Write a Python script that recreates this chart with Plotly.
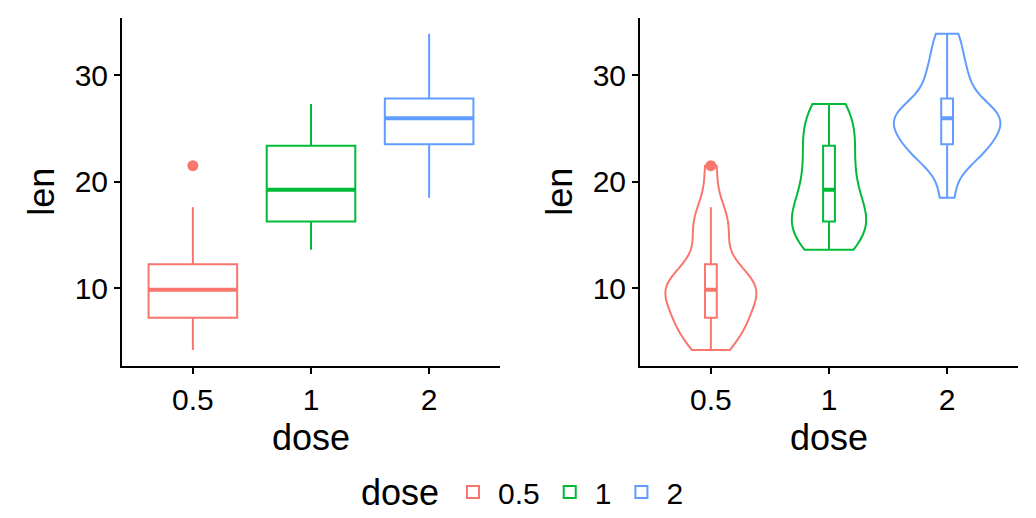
import numpy as np
import plotly.graph_objects as go
from plotly.subplots import make_subplots

# ToothGrowth len values per dose
len_05 = [4.2, 11.5, 7.3, 5.8, 6.4, 10.0, 11.2, 11.2, 5.2, 7.0,
          15.2, 21.5, 17.6, 9.7, 14.5, 10.0, 8.2, 9.4, 16.5, 9.7]
len_1 = [16.5, 16.5, 15.2, 17.3, 22.5, 17.3, 13.6, 14.5, 18.8, 15.5,
         19.7, 23.3, 23.6, 26.4, 20.0, 25.2, 25.8, 21.2, 14.5, 27.3]
len_2 = [23.6, 18.5, 33.9, 25.5, 26.4, 32.5, 26.7, 21.5, 23.3, 29.5,
         25.5, 26.4, 22.4, 24.5, 24.8, 30.9, 26.4, 27.3, 29.4, 23.0]
dose_labels = ['0.5', '1', '2']
colors = ['#F8766D', '#00BA38', '#619CFF']

groups = [np.array(len_05), np.array(len_1), np.array(len_2)]

# page body has an 8px margin, so the figure is drawn 8px in from the corner
OFF = 8
W, H = 1036 - OFF, 518 - OFF
FONT = 'Liberation Sans, Arial, sans-serif'
LW = 2


def px(x):
    return (x - OFF) / W


def py(y):
    return 1 - (y - OFF) / H


def box_stats(v):
    q1, med, q3 = np.percentile(v, [25, 50, 75])
    iqr = q3 - q1
    inside = v[(v >= q1 - 1.5 * iqr) & (v <= q3 + 1.5 * iqr)]
    out = v[(v < q1 - 1.5 * iqr) | (v > q3 + 1.5 * iqr)]
    return q1, med, q3, inside.min(), inside.max(), out


def nrd0(v):
    iqr = np.subtract(*np.percentile(v, [75, 25]))
    return 0.9 * min(v.std(ddof=1), iqr / 1.34) * len(v) ** -0.2


def max_density(v):
    bw = nrd0(v)
    grid = np.linspace(v.min(), v.max(), 512)
    d = np.exp(-0.5 * ((grid[:, None] - v[None, :]) / bw) ** 2).sum(axis=1)
    return d.max() / (len(v) * bw * np.sqrt(2 * np.pi))


fig = make_subplots(rows=1, cols=2)


def add_box(col, i, v, width, legend):
    q1, med, q3, lf, uf, out = box_stats(v)
    fig.add_trace(go.Box(x=[i], q1=[q1], median=[med], q3=[q3],
                         lowerfence=[lf], upperfence=[uf],
                         width=width, whiskerwidth=0, boxpoints=False,
                         line=dict(color=colors[i], width=LW),
                         fillcolor='white', name=dose_labels[i],
                         legendgroup=dose_labels[i], showlegend=legend,
                         hoverinfo='skip'), row=1, col=col)
    # thicker median like ggplot
    fig.add_trace(go.Scatter(x=[i - width / 2, i + width / 2], y=[med, med],
                             mode='lines', line=dict(color=colors[i], width=2 * LW),
                             showlegend=False, hoverinfo='skip'), row=1, col=col)
    if len(out):
        fig.add_trace(go.Scatter(x=[i] * len(out), y=out, mode='markers',
                                 marker=dict(color=colors[i], size=11),
                                 showlegend=False, hoverinfo='skip'), row=1, col=col)


# left: box plots
for i, v in enumerate(groups):
    add_box(1, i, v, 0.75, True)

# right: violins with narrow boxes (area scaled)
dmax = [max_density(v) for v in groups]
for i, v in enumerate(groups):
    fig.add_trace(go.Violin(x0=i, y=v, width=0.9 * dmax[i] / max(dmax),
                            scalemode='width', spanmode='hard', bandwidth=nrd0(v),
                            points=False, box_visible=False, meanline_visible=False,
                            line=dict(color=colors[i], width=LW),
                            fillcolor='rgba(0,0,0,0)', showlegend=False,
                            hoverinfo='skip'), row=1, col=2)
for i, v in enumerate(groups):
    add_box(2, i, v, 0.1, False)

allv = np.concatenate(groups)
pad = 0.05 * (allv.max() - allv.min())
yrange = [allv.min() - pad, allv.max() + pad]

axis_style = dict(showline=True, linecolor='black', linewidth=LW, mirror=False,
                  ticks='outside', ticklen=6, tickwidth=LW, tickcolor='black',
                  showgrid=False, zeroline=False, automargin=False,
                  tickfont=dict(size=30, color='black', family=FONT))

fig.update_xaxes(range=[-0.6, 2.6], tickvals=[0, 1, 2], ticktext=dose_labels, **axis_style)
fig.update_yaxes(range=yrange, tickvals=[10, 20, 30], **axis_style)

fig.update_layout(
    xaxis=dict(domain=[px(122), px(500)]),
    xaxis2=dict(domain=[px(640), px(1018)]),
    yaxis=dict(domain=[py(370), py(18)]),
    yaxis2=dict(domain=[py(370), py(18)]),
    boxmode='overlay', violinmode='overlay',
    width=W, height=H,
    margin=dict(l=0, r=0, t=0, b=0),
    plot_bgcolor='white', paper_bgcolor='white',
    font=dict(family=FONT, color='black'),
    legend=dict(orientation='h', x=px(448), xanchor='left', y=py(498), yanchor='middle',
                font=dict(size=30), itemwidth=40, tracegroupgap=0),
)

title_font = dict(size=36, color='black', family=FONT)
for xc in [311, 829]:
    fig.add_annotation(text='dose', x=px(xc), y=py(443), xref='paper', yref='paper',
                       showarrow=False, font=title_font, xanchor='center', yanchor='middle')
for xc in [42, 560]:
    fig.add_annotation(text='len', x=px(xc), y=py(194), xref='paper', yref='paper',
                       showarrow=False, font=title_font, textangle=-90,
                       xanchor='center', yanchor='middle')
# legend title
fig.add_annotation(text='dose', x=px(400), y=py(498), xref='paper', yref='paper',
                   showarrow=False, font=title_font, xanchor='center', yanchor='middle')

fig.write_html("out.html")
